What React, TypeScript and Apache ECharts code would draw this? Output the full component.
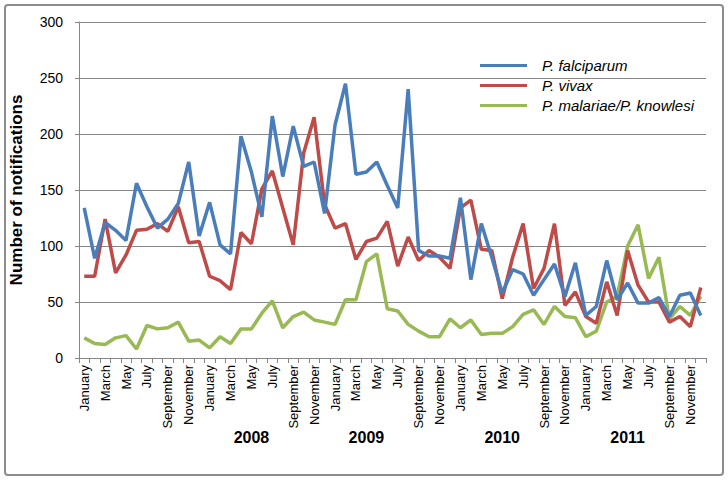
import React, { useEffect, useRef } from "react";
import * as echarts from "echarts";

const monthNames = [
  "January", "February", "March", "April", "May", "June",
  "July", "August", "September", "October", "November", "December",
];
const yearsShown = ["2007", "2008", "2009", "2010", "2011"];
// year label text and the month index it sits under
const yearLabels = ["2008", "2009", "2010", "2011"];
const yearLabelIndex = [16, 27, 40, 52];

const falciparum = [
  134, 89, 121, 114, 105, 156, 135, 116, 124, 138, 175, 109,
  139, 101, 93, 198, 166, 126, 216, 162, 207, 171, 175, 129,
  208, 245, 164, 166, 175, 154, 134, 240, 96, 91, 91, 89,
  143, 70, 120, 90, 58, 79, 75, 56, 70, 84, 55, 85,
  38, 46, 87, 52, 67, 49, 49, 54, 37, 56, 58, 38,
];
const vivax = [
  73, 73, 124, 76, 92, 114, 115, 120, 113, 135, 103, 104,
  73, 69, 61, 112, 102, 151, 167, 134, 101, 183, 215, 137,
  116, 120, 88, 104, 107, 122, 82, 108, 87, 96, 90, 80,
  134, 141, 97, 96, 53, 90, 120, 62, 80, 120, 47, 59,
  37, 31, 68, 38, 96, 65, 50, 50, 32, 37, 28, 63,
];
const malariaeKnowlesi = [
  18, 13, 12, 18, 20, 8, 29, 26, 27, 32, 15, 16,
  9, 19, 13, 26, 26, 40, 51, 27, 37, 41, 34, 32,
  30, 52, 52, 86, 93, 44, 42, 30, 24, 19, 19, 35,
  27, 34, 21, 22, 22, 28, 39, 43, 30, 46, 37, 36,
  19, 24, 50, 55, 100, 119, 71, 90, 35, 46, 38, 55,
];
const seriesNames = ["P. falciparum", "P. vivax", "P. malariae/P. knowlesi"];
const seriesColors = ["#4A7EBB", "#BE4B48", "#98B954"];

const categories: string[] = [];
yearsShown.forEach(() => monthNames.forEach((m) => categories.push(m)));
const yearAxisData = categories.map((_, i) => {
  const k = yearLabelIndex.indexOf(i);
  return k >= 0 ? yearLabels[k] : "";
});

const FONT = "'Liberation Sans', Arial, sans-serif";

export default function App() {
  const ref = useRef<HTMLDivElement>(null);
  useEffect(() => {
    if (!ref.current) return;
    const chart = echarts.init(ref.current, undefined, { renderer: "svg" });
    const data = [falciparum, vivax, malariaeKnowlesi];
    chart.setOption({
      animation: false,
      backgroundColor: "#ffffff",
      textStyle: { fontFamily: FONT },
      graphic: [
        {
          type: "rect",
          shape: { x: 5, y: 5, width: 718, height: 470, r: 3 },
          style: { fill: "none", stroke: "#8c8c8c", lineWidth: 2 },
          silent: true,
        },
      ],
      grid: { left: 79, right: 22, top: 22, bottom: 122, containLabel: false },
      legend: {
        orient: "vertical",
        left: 475,
        top: 52,
        icon: "rect",
        itemWidth: 47,
        itemHeight: 3,
        itemGap: 3,
        textStyle: {
          fontFamily: FONT,
          fontSize: 15,
          fontStyle: "italic",
          color: "#000",
          lineHeight: 17,
          padding: [0, 0, 0, 10],
        },
        data: seriesNames,
      },
      xAxis: [
        {
          type: "category",
          data: categories,
          boundaryGap: true,
          axisLine: { lineStyle: { color: "#868686", width: 1 } },
          axisTick: { show: true, interval: 0, length: 5, lineStyle: { color: "#868686" } },
          axisLabel: {
            interval: 1,
            rotate: 90,
            margin: 7,
            fontSize: 13,
            fontFamily: FONT,
            color: "#000",
          },
          splitLine: { show: false },
        },
        {
          type: "category",
          data: yearAxisData,
          position: "bottom",
          boundaryGap: true,
          axisLine: { show: false },
          axisTick: { show: false },
          axisLabel: {
            interval: 0,
            margin: 71,
            fontSize: 16,
            fontWeight: "bold",
            fontFamily: FONT,
            color: "#000",
          },
          splitLine: { show: false },
        },
      ],
      yAxis: {
        type: "value",
        min: 0,
        max: 300,
        interval: 50,
        name: "Number of notifications",
        nameLocation: "middle",
        nameGap: 54,
        nameTextStyle: { fontSize: 17, fontWeight: "bold", fontFamily: FONT, color: "#000" },
        axisLine: { show: true, lineStyle: { color: "#868686", width: 1 } },
        axisTick: { show: true, length: 4, lineStyle: { color: "#868686" } },
        axisLabel: { margin: 16, fontSize: 14, fontFamily: FONT, color: "#000" },
        splitLine: { show: true, lineStyle: { color: "#868686", width: 1 } },
      },
      series: data.map((d, k) => ({
        name: seriesNames[k],
        type: "line",
        data: d,
        symbol: "none",
        smooth: false,
        color: seriesColors[k],
        lineStyle: { width: 3.5, color: seriesColors[k] },
        z: 3 - k,
      })),
    });
    return () => chart.dispose();
  }, []);
  return (
    <div
      ref={ref}
      style={{ position: "absolute", left: 0, top: 0, width: 728, height: 480 }}
    />
  );
}
